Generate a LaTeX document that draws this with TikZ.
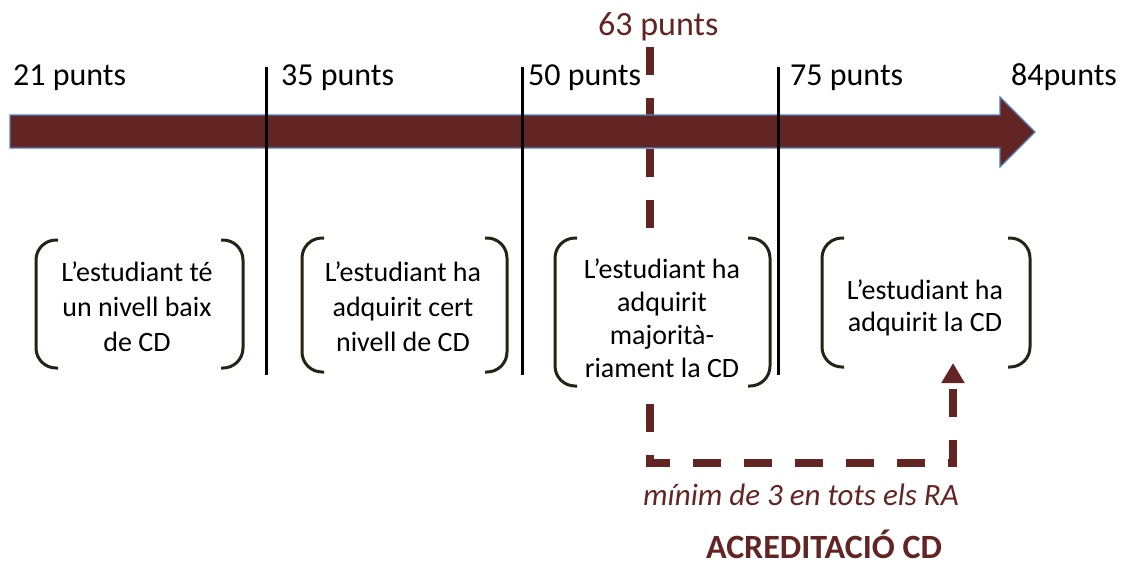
\documentclass[tikz,border=0pt]{standalone}
\usepackage{fontspec}
\setmainfont{Carlito}
\usetikzlibrary{arrows.meta}

\definecolor{wine}{RGB}{99,37,35}
\definecolor{rim}{RGB}{79,129,189}
\definecolor{ink}{RGB}{38,34,20}

\begin{document}
\begin{tikzpicture}[x=1pt, y=-1pt,
    lab/.style={anchor=base west, inner sep=0pt, font=\fontsize{32}{38}\selectfont},
    seg/.style={align=center, inner sep=0pt, font=\fontsize{28}{35}\selectfont},
    brk/.style={draw=ink, line width=3pt, rounded corners=20pt},
    tick/.style={line width=3pt},
    route/.style={draw=wine, line width=8pt, dash pattern=on 28pt off 23pt}]
    \useasboundingbox (0,0) rectangle (1143,566);

    % threshold route, under everything else
    \coordinate (top) at (650,47);
    \coordinate (bend) at (650,463);
    \coordinate (turn) at (953,463);
    \coordinate (goal) at (953,363);
    \draw[route, -{Triangle[width=22pt, length=20pt]}]
        (top) -- (bend) -- (turn) -- (goal);

    % the scale arrow
    \draw[fill=wine, draw=rim, line width=1.2pt]
        (10,115) -- (1000,115) -- (1000,97) -- (1035,132)
        -- (1000,167) -- (1000,148) -- (10,148) -- cycle;

    % score marks
    \node[lab] (p21) at (13,85) {21 punts};
    \node[lab] (p35) at (281,85) {35 punts};
    \node[lab, fill=white] (p50) at (528,85) {50 punts\hspace{20pt}};
    \node[lab] (p75) at (790,85) {75 punts};
    \node[lab] (p84) at (1011,85) {84punts};
    \node[lab, text=wine, font=\fontsize{34}{40}\selectfont] (p63) at (598,35) {63 punts};

    \foreach \x in {266,522,778}
        \draw[tick] (\x,67) -- (\x,375);

    \node[seg] (s1) at (137,307) {L’estudiant té\\ un nivell baix\\ de CD};
    \node[seg] (s2) at (403,307) {L’estudiant ha\\ adquirit cert\\ nivell de CD};
    \node[seg, fill=white, minimum width=200pt, minimum height=160pt,
          font=\fontsize{28}{33}\selectfont] (s3) at (662,318)
        {L’estudiant ha\\ adquirit\\ majorità-\\ riament la CD};
    \node[seg, font=\fontsize{28}{32}\selectfont] (s4) at (925,308)
        {L’estudiant ha\\ adquirit la CD};

    % brackets round each band
    \foreach \l/\r/\t/\b in {36/243/240/368, 302/507/238/372,
                             555/770/238/386, 822/1030/238/367} {
        \draw[brk] (\l+22,\t) -- (\l,\t) -- (\l,\b) -- (\l+22,\b);
        \draw[brk] (\r-22,\t) -- (\r,\t) -- (\r,\b) -- (\r-22,\b);
    }

    \node[text=wine, font=\itshape\fontsize{31}{36}\selectfont] (min) at (801,495)
        {mínim de 3 en tots els RA};
    \node[anchor=base, inner sep=0pt, text=wine, font=\bfseries\fontsize{34}{40}\selectfont]
        (acr) at (824,558) {ACREDITACIÓ CD};
\end{tikzpicture}
\end{document}
